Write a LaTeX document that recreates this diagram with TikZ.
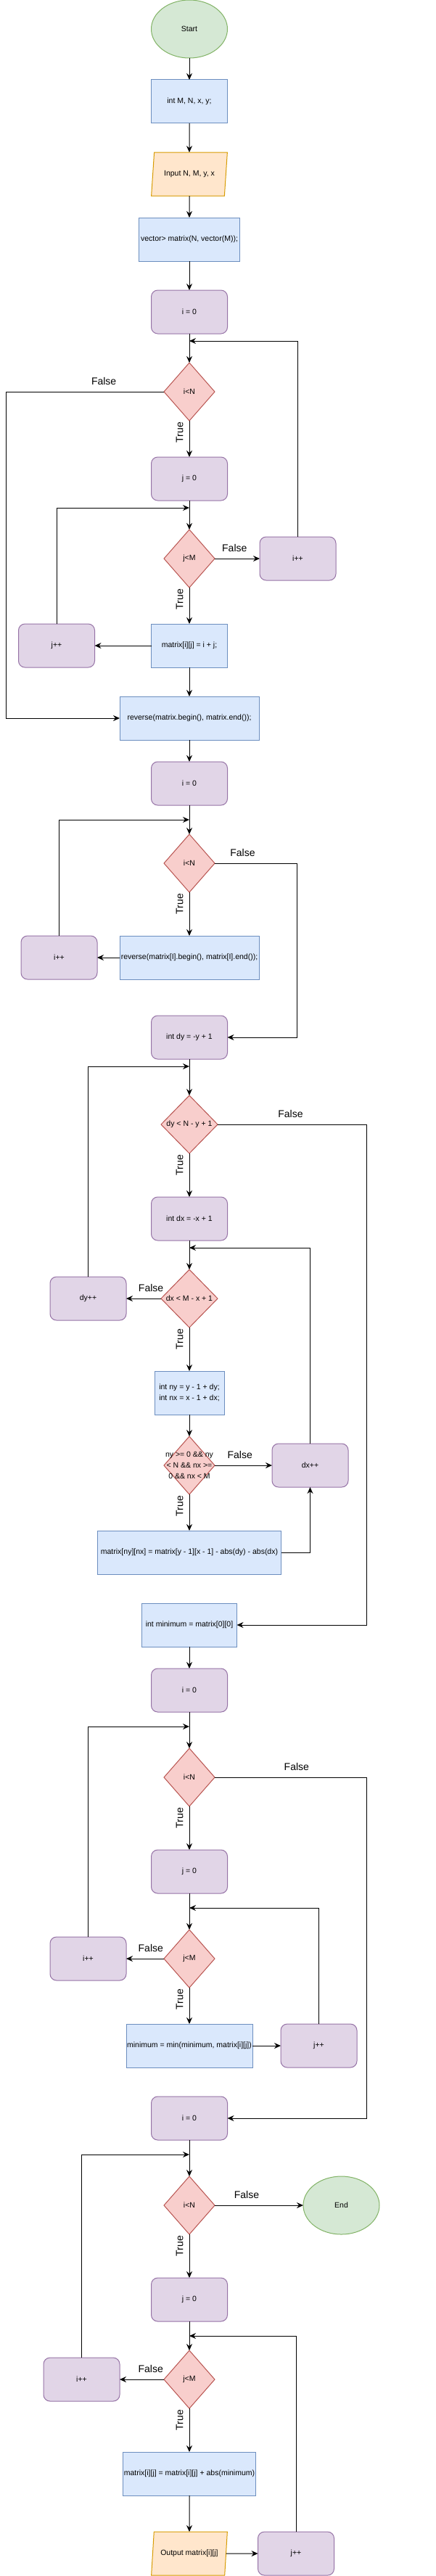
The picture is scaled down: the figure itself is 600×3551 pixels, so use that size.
\documentclass[tikz,border=0pt]{standalone}
\usepackage{fontspec}
\setmainfont{Liberation Sans}
\usepackage{tikz}
\usetikzlibrary{arrows.meta,shapes.geometric,positioning}
\definecolor{termfill}{HTML}{D5E8D4}
\definecolor{termline}{HTML}{82B366}
\definecolor{procfill}{HTML}{DAE8FC}
\definecolor{procline}{HTML}{6C8EBF}
\definecolor{iofill}{HTML}{FFE6CC}
\definecolor{ioline}{HTML}{D79B00}
\definecolor{loopfill}{HTML}{E1D5E7}
\definecolor{loopline}{HTML}{9673A6}
\definecolor{condfill}{HTML}{F8CECC}
\definecolor{condline}{HTML}{B85450}

\begin{document}
\begin{tikzpicture}[x=1pt, y=1pt, line width=1pt, >={Stealth[length=9pt,width=8pt,inset=3pt]}]
% STYLES
\tikzset{
    txt/.style={inner sep=0pt, outer sep=0pt, align=center, font=\fontsize{10.5}{15}\selectfont},
    boxbase/.style={txt, draw},
    term/.style={boxbase, ellipse, fill=termfill, draw=termline, minimum width=105pt, minimum height=80pt},
    proc/.style={boxbase, rectangle, fill=procfill, draw=procline, minimum width=105pt, minimum height=60pt},
    io/.style={boxbase, trapezium, trapezium left angle=73, trapezium right angle=107,
      trapezium stretches=true, fill=iofill, draw=ioline, minimum width=105pt, minimum height=60pt},
    loopbox/.style={boxbase, rectangle, rounded corners=9pt, fill=loopfill, draw=loopline,
      minimum width=105pt, minimum height=60pt},
    cond/.style={boxbase, diamond, fill=condfill, draw=condline, minimum width=70pt, minimum height=80pt},
    flab/.style={above=9pt, inner sep=0pt, font=\fontsize{14}{16}\selectfont},
    tlab/.style={rotate=90, anchor=south, inner sep=0pt, font=\fontsize{14}{16}\selectfont},
    link/.style={->, line width=1pt}
}
\useasboundingbox (0,0) rectangle (600,-3551);

% fill the matrix
\node [term] (start) at (261,-40) {Start};
\node [proc, below=30pt of start] (decl) {int M, N, x, y;};
\node [io, below=40pt of decl] (inp) {Input N, M, y, x};
\node [proc, below=30pt of inp, minimum width=139pt] (vec) {vector> matrix(N, vector(M));};
\node [loopbox, below=40pt of vec] (iz1) {i = 0};
\node [cond, below=40pt of iz1] (ci1) {i<N};
\node [loopbox, below=50pt of ci1] (jz1) {j = 0};
\node [cond, below=40pt of jz1] (cj1) {j<M};
\node [proc, below=50pt of cj1] (fill1) {matrix[i][j] = i + j;};
\node [loopbox, right=62pt of cj1] (ipp1) {i++};
\node [loopbox, left=78pt of fill1] (jpp1) {j++};
\node [proc, below=40pt of fill1, minimum width=192pt] (rev1) {reverse(matrix.begin(), matrix.end());};

% reverse every row
\node [loopbox, below=30pt of rev1] (iz2) {i = 0};
\node [cond, below=40pt of iz2] (ci2) {i<N};
\node [proc, below=60pt of ci2, minimum width=192pt] (rev2) {reverse(matrix[I].begin(), matrix[I].end());};
\node [loopbox, left=31pt of rev2] (ipp2) {i++};

% neighbourhood
\node [loopbox, below=50pt of rev2] (dyinit) {int dy = -y + 1};
\node [cond, below=50pt of dyinit, minimum width=78pt] (cdy) {dy < N - y + 1};
\node [loopbox, below=60pt of cdy] (dxinit) {int dx = -x + 1};
\node [cond, below=40pt of dxinit, minimum width=78pt] (cdx) {dx < M - x + 1};
\node [loopbox, left=48pt of cdx] (dypp) {dy++};
\node [proc, below=60pt of cdx, minimum width=96pt] (nynx) {int ny = y - 1 + dy;\\int nx = x - 1 + dx;};
\node [cond, below=30pt of nynx,
  label={[txt, name=inlbl]center:{ny >= 0 \&\& ny\\< N \&\& nx >=\\0 \&\& nx < M}}] (cin) {};
\node [loopbox, right=79pt of cin] (dxpp) {dx++};
\node [proc, below=50pt of cin, minimum width=253pt] (upd) {matrix[ny][nx] = matrix[y - 1][x - 1] - abs(dy) - abs(dx)};

% minimum
\node [proc, below=40pt of upd, minimum width=131pt] (mini) {int minimum = matrix[0][0]};
\node [loopbox, below=30pt of mini] (iz3) {i = 0};
\node [cond, below=50pt of iz3] (ci3) {i<N};
\node [loopbox, below=60pt of ci3] (jz3) {j = 0};
\node [cond, below=50pt of jz3] (cj3) {j<M};
\node [loopbox, left=52pt of cj3] (ipp3) {i++};
\node [proc, below=50pt of cj3, minimum width=174pt] (minup) {minimum = min(minimum, matrix[i][j])};
\node [loopbox, right=39pt of minup] (jpp3) {j++};

% shift and output
\node [loopbox, below=40pt of minup] (iz4) {i = 0};
\node [cond, below=50pt of iz4] (ci4) {i<N};
\node [term, right=122pt of ci4] (stop) {End};
\node [loopbox, below=60pt of ci4] (jz4) {j = 0};
\node [cond, below=40pt of jz4] (cj4) {j<M};
\node [loopbox, left=61pt of cj4] (ipp4) {i++};
\node [proc, below=60pt of cj4, minimum width=183pt] (add) {matrix[i][j] = matrix[i][j] + abs(minimum)};
\node [io, below=50pt of add] (outp) {Output matrix[i][j]};
\node [loopbox, right=44pt of outp] (jpp4) {j++};

% rails and junctions
\coordinate (leftrail) at (8,0);
\coordinate (midrail) at (409,0);
\coordinate (rightrail) at (505,0);
\coordinate (jn1) at ([yshift=-10pt]iz1.south);
\coordinate (jn2) at ([yshift=-10pt]jz1.south);
\coordinate (jn3) at ([yshift=-20pt]iz2.south);
\coordinate (jn4) at ([yshift=-10pt]dyinit.south);
\coordinate (jn5) at ([yshift=-10pt]dxinit.south);
\coordinate (jn6) at ([yshift=-20pt]iz3.south);
\coordinate (jn7) at ([yshift=-20pt]jz3.south);
\coordinate (jn8) at ([yshift=-20pt]iz4.south);
\coordinate (jn9) at ([yshift=-20pt]jz4.south);

\foreach \cnd in {ci1,cj1,ci2,cdy,cdx,cin,ci3,cj3,ci4,cj4}
  \node [tlab] (t-\cnd) at ([xshift=-8pt,yshift=-16pt]\cnd.south) {True};

% Draw the links between
\path[link]
   (start) edge (decl)
   (decl) edge (inp)
   (inp) edge (vec)
   (vec) edge (iz1)
   (iz1) edge (ci1)
   (ci1) edge (jz1)
   (jz1) edge (cj1)
   (cj1) edge (fill1)
   (fill1) edge (jpp1)
   (fill1) edge (rev1)
   (rev1) edge (iz2)
   (iz2) edge (ci2)
   (ci2) edge (rev2)
   (rev2) edge (ipp2)
   (dyinit) edge (cdy)
   (cdy) edge (dxinit)
   (dxinit) edge (cdx)
   (cdx) edge (nynx)
   (nynx) edge (cin)
   (cin) edge (upd)
   (mini) edge (iz3)
   (iz3) edge (ci3)
   (ci3) edge (jz3)
   (jz3) edge (cj3)
   (cj3) edge (minup)
   (minup) edge (jpp3)
   (iz4) edge (ci4)
   (ci4) edge (jz4)
   (jz4) edge (cj4)
   (cj4) edge (add)
   (add) edge (outp)
   (outp) edge (jpp4);

% False branches
\draw[link] (ci1.west) -- node[flab, pos=0.38] (f1) {False} (ci1.west -| leftrail) |- (rev1.west);
\draw[link] (cj1) -- node[flab, pos=0.44] (f2) {False} (ipp1);
\draw[link] (ci2.east) -- node[flab, pos=0.34] (f3) {False} (ci2.east -| midrail) |- (dyinit.east);
\draw[link] (cdy.east) -- node[flab, pos=0.49] (f4) {False} (cdy.east -| rightrail) |- (mini.east);
\draw[link] (cdx) -- node[flab, pos=0.29] (f5) {False} (dypp);
\draw[link] (cin) -- node[flab, pos=0.44] (f6) {False} (dxpp);
\draw[link] (ci3.east) -- node[flab, pos=0.54] (f7) {False} (ci3.east -| rightrail) |- (iz4.east);
\draw[link] (cj3) -- node[flab, pos=0.35] (f8) {False} (ipp3);
\draw[link] (ci4) -- node[flab, pos=0.36] (f9) {False} (stop);
\draw[link] (cj4) -- node[flab, pos=0.3] (f10) {False} (ipp4);

% loops back
\draw[link] (ipp1.north) |- (jn1);
\draw[link] (jpp1.north) |- (jn2);
\draw[link] (ipp2.north) |- (jn3);
\draw[link] (dypp.north) |- (jn4);
\draw[link] (dxpp.north) |- (jn5);
\draw[link] (upd.east) -| (dxpp.south);
\draw[link] (ipp3.north) |- (jn6);
\draw[link] (jpp3.north) |- (jn7);
\draw[link] (ipp4.north) |- (jn8);
\draw[link] (jpp4.north) |- (jn9);

\end{tikzpicture}
\end{document}
